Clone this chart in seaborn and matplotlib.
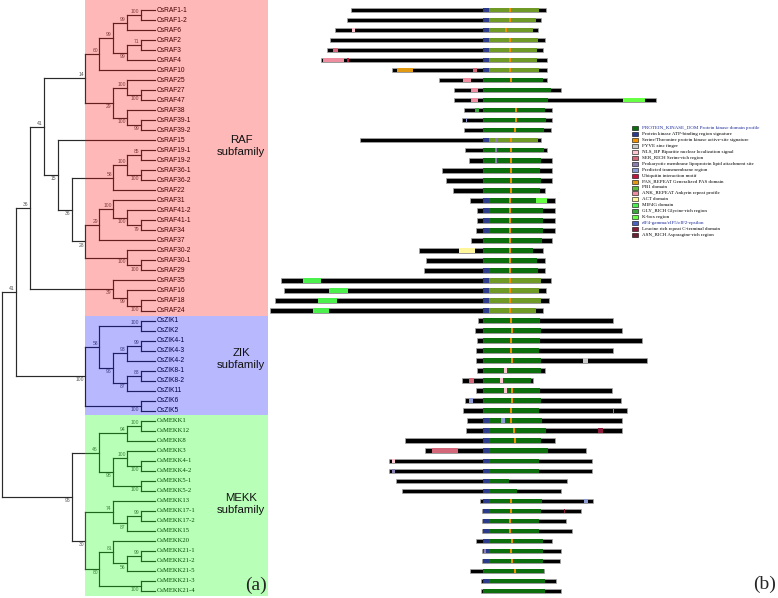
import re
import matplotlib
matplotlib.use("Agg")
import matplotlib.pyplot as plt
from matplotlib.patches import Rectangle
import seaborn as sns

# ---- tree (topology + bootstrap values) ----
clade_raf_a = ("(((((CsRAF1-1,CsRAF1-2)100,CsRAF6)99,((CsRAF2,CsRAF3)71,CsRAF4)99)99,CsRAF10)60,"
               "((CsRAF25,(CsRAF27,CsRAF47)100)100,(CsRAF38,(CsRAF39-1,CsRAF39-2)99)100)29)14")
clade_raf_b = "(((CsRAF19-1,CsRAF19-2)85,(CsRAF36-1,CsRAF36-2)100)100,CsRAF22)58"
clade_raf_c = ("(((CsRAF31,(CsRAF41-2,(CsRAF41-1,CsRAF34)79)100)100,CsRAF37)29,"
               "(CsRAF30-2,(CsRAF30-1,CsRAF29)100)100)28")
clade_raf_d = "(CsRAF35,(CsRAF16,(CsRAF18,CsRAF24)100)99)39"
clade_zik = ("(((CsZIK1,CsZIK2)100,(((CsZIK4-1,CsZIK4-3)99,CsZIK4-2)93,((CsZIK8-1,CsZIK8-2)88,CsZIK11)87)96)58,"
             "(CsZIK6,CsZIK5)100)100")
clade_mekk = ("((((CsMEKK1,CsMEKK12)100,CsMEKK8)94,((CsMEKK3,(CsMEKK4-1,CsMEKK4-2)100)100,(CsMEKK5-1,CsMEKK5-2)100)98)46,"
              "((CsMEKK13,((CsMEKK17-1,CsMEKK17-2)99,CsMEKK15)87)74,"
              "((CsMEKK20,((CsMEKK21-1,CsMEKK21-2)99,CsMEKK21-5)56)81,(CsMEKK21-3,CsMEKK21-4)100)80)30)95")
newick = ("((((" + clade_raf_a + ",(CsRAF15,(" + clade_raf_b + "," + clade_raf_c + ")36)15)41,"
          + clade_raf_d + ")36," + clade_zik + ")41," + clade_mekk + ");")

# ---- domain architecture (aa, aligned on kinase domain start = 0) ----
prot_start = [-660, -680, -740, -765, -780, -810, -455, -220, -145, -145, -95, -105, -95, -615, -90, -70,
              -205, -185, -150, -65, -30, -30, -35, -60, -320, -285, -295, -1010, -995, -1040, -1065,
              -25, -40, -30, -35, -35, -30, -105, -35, -90, -100,
              -80, -85, -390, -290, -470, -470, -435, -405, -15, -5, -5, -5, -35, -5, -5, -65, -10, -10]
prot_end = [315, 290, 275, 310, 300, 320, 320, 320, 390, 865, 345, 345, 340, 290, 320, 345,
            345, 345, 310, 360, 360, 360, 360, 345, 300, 310, 310, 340, 315, 330, 300,
            650, 695, 795, 650, 820, 310, 250, 645, 690, 720,
            695, 695, 360, 515, 545, 545, 420, 390, 550, 490, 415, 445, 345, 390, 385, 305, 365, 390]
kin_end = [280, 265, 250, 275, 270, 270, 280, 300, 340, 325, 310, 315, 305, 275, 305, 290,
           285, 290, 285, 320, 300, 300, 300, 295, 250, 270, 275, 290, 280, 290, 265,
           285, 290, 285, 280, 290, 290, 240, 285, 290, 280,
           295, 315, 290, 325, 280, 280, 130, 170, 295, 290, 280, 280, 300, 300, 300, 305, 310, 310]
kin_olive = [1, 1, 1, 1, 1, 1, 1, 0, 0, 0, 0, 0, 0, 1, 0, 0,
             0, 0, 0, 0, 0, 0, 0, 0, 0, 0, 0, 1, 1, 1, 1,
             0, 0, 0, 0, 0, 0, 0, 0, 0, 0,
             0, 0, 0, 0, 0, 0, 0, 0, 0, 0, 0, 0, 0, 0, 0, 0, 0, 0]
atp_site = [1, 1, 1, 1, 1, 1, 1, 0, 0, 0, 0, 0, 0, 1, 0, 0,
            0, 0, 0, 1, 1, 1, 1, 0, 0, 0, 1, 1, 1, 1, 1,
            0, 0, 0, 0, 0, 0, 0, 0, 0, 0,
            1, 1, 1, 1, 1, 1, 1, 1, 1, 1, 1, 1, 1, 1, 1, 0, 1, 0]
active_site = [135, 135, 115, 135, 135, 135, 135, 140, None, None, 165, 165, 160, 140, 140, 140,
               140, 140, 140, 135, 135, 135, 135, 135, 135, 135, 135, 135, 135, 135, 135,
               140, 145, 140, 140, 145, None, None, 145, 145, 140,
               140, 155, 160, None, None, None, None, None, 140, 140, 135, 135, 145, 140, 145, 160, None, None]
extra_domains = {
    "CsRAF6": [("NLS", -655, -640)],
    "CsRAF3": [("SER", -750, -725)],
    "CsRAF4": [("ANK", -800, -695), ("UIM", -680, -668)],
    "CsRAF10": [("PAS", -430, -350), ("SER", -50, -30)],
    "CsRAF25": [("ANK", -100, -60)],
    "CsRAF27": [("ANK", -60, -25)],
    "CsRAF47": [("ANK", -60, -25), ("KBOX", 700, 810)],
    "CsRAF38": [("GLY", -40, -20)],
    "CsRAF39-1": [("TM", -85, -78)],
    "CsRAF15": [("LIPO", 60, 70)],
    "CsRAF19-1": [("LIPO", 60, 70)],
    "CsRAF19-2": [("LIPO", 60, 70)],
    "CsRAF31": [("KBOX", 265, 320)],
    "CsRAF30-2": [("ACT", -120, -40)],
    "CsRAF35": [("MIF4G", -900, -810)],
    "CsRAF16": [("MIF4G", -770, -675)],
    "CsRAF18": [("MIF4G", -825, -730)],
    "CsRAF24": [("MIF4G", -850, -770)],
    "CsZIK4-2": [("FYVE", 500, 525)],
    "CsZIK8-1": [("NLS", 105, 120)],
    "CsZIK8-2": [("SER", -70, -45), ("NLS", 85, 100)],
    "CsZIK11": [("NLS", 105, 120)],
    "CsZIK6": [("TM", -70, -50)],
    "CsZIK5": [("LIPO", 650, 657)],
    "CsMEKK1": [("TM", 90, 110)],
    "CsMEKK12": [("LRR", 575, 600)],
    "CsMEKK3": [("SER", -255, -125)],
    "CsMEKK4-1": [("NLS", -455, -440)],
    "CsMEKK4-2": [("LIPO", -455, -440)],
    "CsMEKK13": [("TM", 505, 525)],
    "CsMEKK17-1": [("LRR", 405, 412)],
    "CsMEKK21-1": [("LIPO", 5, 15)],
}

legend_keys = ["PK", "ATP", "ACTSITE", "FYVE", "NLS", "SER", "LIPO", "TM", "UIM", "PAS",
               "PB1", "ANK", "ACT", "MIF4G", "GLY", "KBOX", "EIF", "LRR", "ASN"]
legend_labels = ["PROTEIN_KINASE_DOM Protein kinase domain profile",
                 "Protein kinase ATP-binding region signature",
                 "Serine/Threonine protein kinase active-site signature",
                 "FYVE zinc finger",
                 "NLS_BP Bipartite nuclear localization signal",
                 "SER_RICH Serine-rich region",
                 "Prokaryotic membrane lipoprotein lipid attachment site",
                 "Predicted transmembrane region",
                 "Ubiquitin interaction motif",
                 "PAS_REPEAT Generalized PAS domain",
                 "PB1 domain",
                 "ANK_REPEAT Ankyrin repeat profile",
                 "ACT domain",
                 "MIF4G domain",
                 "GLY_RICH Glycine-rich region",
                 "K-box region",
                 "eIF4-gamma/eIF5/eIF2-epsilon",
                 "Leucine rich repeat C-terminal domain",
                 "ASN_RICH Asparagine-rich region"]

dom_colors = {"PK": "#0d6e0d", "PKO": "#6f9a26", "ATP": "#2c3a8c", "ACTSITE": "#f39200",
              "FYVE": "#c8c8c8", "NLS": "#ffc4d0", "SER": "#d4667a", "LIPO": "#8a7fb0",
              "TM": "#8c9ad6", "UIM": "#c2143c", "PAS": "#e29a12", "PB1": "#5cbf3a",
              "ANK": "#ee8ea0", "ACT": "#fff59a", "MIF4G": "#4cf04c", "GLY": "#3aa83a",
              "KBOX": "#66ff44", "EIF": "#4a62c2", "LRR": "#8b1a3a", "ASN": "#6b2034"}

subfamilies = [("RAF\nsubfamily", "#ff0000", 13.6), ("ZIK\nsubfamily", "#0000ff", 34.8),
               ("MEKK\nsubfamily", "#00ff00", 49.3)]
group_bounds = [-1.0, 30.5, 40.45, 58.55]


# ---- parse tree ----
def parse(s):
    pos = 0

    def node():
        nonlocal pos
        if s[pos] == "(":
            pos += 1
            kids = [node()]
            while s[pos] == ",":
                pos += 1
                kids.append(node())
            pos += 1
            lab = re.match(r"[0-9]*", s[pos:]).group(0)
            pos += len(lab)
            return {"kids": kids, "boot": lab}
        name = re.match(r"[^,();]+", s[pos:]).group(0)
        pos += len(name)
        return {"name": name}
    return node()


root = parse(newick)
leaves = []


def layout(n):
    if "name" in n:
        n["h"] = 0
        n["y"] = len(leaves)
        leaves.append(n["name"])
        return
    for k in n["kids"]:
        layout(k)
    n["h"] = 1 + max(k["h"] for k in n["kids"])
    n["y"] = (n["kids"][0]["y"] + n["kids"][-1]["y"]) / 2


layout(root)

sns.set_style("white")
plt.rcParams["font.family"] = ["Liberation Sans", "DejaVu Sans"]

W, H = 778, 598
fig = plt.figure(figsize=(W / 100, H / 100), dpi=100)
ROW0, ROWH = 10.0, 10.017
ylim = ((H - ROW0) / ROWH, -ROW0 / ROWH)

# tree axes: x in pixels, y in leaf rows
ax = fig.add_axes([0, 0, 1, 1])
ax.set_xlim(0, W)
ax.set_ylim(*ylim)
ax.axis("off")
LEAF_X, STEP = 155.0, 13.9
line_kw = dict(color="#2a2a2a", lw=0.85, capstyle="projecting", zorder=2)


def draw(n):
    x = LEAF_X - STEP * n["h"]
    ax.vlines(x, n["kids"][0]["y"], n["kids"][-1]["y"], **line_kw)
    for i, k in enumerate(n["kids"]):
        xk = LEAF_X - STEP * k["h"]
        ax.hlines(k["y"], x, xk, **line_kw)
        if "kids" in k:
            if k["boot"]:
                above = i == 0
                ax.text(xk - 1.5, k["y"] + (-0.1 if above else 0.12), k["boot"],
                        ha="right", va="bottom" if above else "top",
                        fontsize=3.6, color="#555555", zorder=3)
            draw(k)


draw(root)
for i, name in enumerate(leaves):
    fam = "Liberation Serif" if "MEKK" in name else "Liberation Sans"
    ax.text(LEAF_X + 2, i, name, ha="left", va="center", fontsize=4.8,
            family=fam, color="black", zorder=3)

for (label, col, yc), y0, y1 in zip(subfamilies, group_bounds[:-1], group_bounds[1:]):
    ax.add_patch(Rectangle((85, y0), 183, y1 - y0, facecolor=col, alpha=0.28,
                           edgecolor="none", zorder=4))
    ax.text(241, yc, label, ha="center", va="center", fontsize=8.2,
            linespacing=1.25, color="#111111", zorder=5)

# domain axes: x in aa (kinase start aligned at 0)
axd = fig.add_axes([0, 0, 1, 1])
axd.set_xlim(-2415, 1475)
axd.set_ylim(*ylim)
axd.axis("off")
axd.patch.set_alpha(0)
BH = 0.45
rows = list(range(len(leaves)))
axd.barh(rows, [e - s for s, e in zip(prot_start, prot_end)], left=prot_start, height=BH,
         color="black", edgecolor="#a8a8a8", lw=0.5, zorder=2)
axd.barh(rows, kin_end, left=0, height=BH,
         color=[dom_colors["PKO"] if o else dom_colors["PK"] for o in kin_olive], lw=0, zorder=3)
atp_rows = [r for r in rows if atp_site[r]]
axd.barh(atp_rows, 28, left=0, height=BH, color=dom_colors["ATP"], lw=0, zorder=4)
act_rows = [r for r in rows if active_site[r] is not None]
axd.barh(act_rows, 10, left=[active_site[r] - 5 for r in act_rows], height=BH,
         color=dom_colors["ACTSITE"], lw=0, zorder=5)
for r, name in enumerate(leaves):
    for key, a, b in extra_domains.get(name, []):
        axd.barh(r, b - a, left=a, height=BH, color=dom_colors[key], lw=0, zorder=5)

# legend + panel labels in pixel coordinates
axl = fig.add_axes([0, 0, 1, 1])
axl.set_xlim(0, W)
axl.set_ylim(H, 0)
axl.axis("off")
axl.patch.set_alpha(0)
for i, (key, txt) in enumerate(zip(legend_keys, legend_labels)):
    y = 128 + 5.95 * i
    axl.add_patch(Rectangle((632, y - 2), 6, 4, facecolor=dom_colors[key],
                            edgecolor="black", lw=0.4))
    axl.text(642, y, txt, ha="left", va="center", fontsize=3.6, family="Liberation Serif",
             color="#1a2a9a" if i in (0, 16) else "black")
axl.text(256, 585, "(a)", ha="center", va="center", fontsize=14, family="Liberation Serif")
axl.text(765, 584, "(b)", ha="center", va="center", fontsize=14, family="Liberation Serif")

fig.savefig("out.png", dpi=100)
